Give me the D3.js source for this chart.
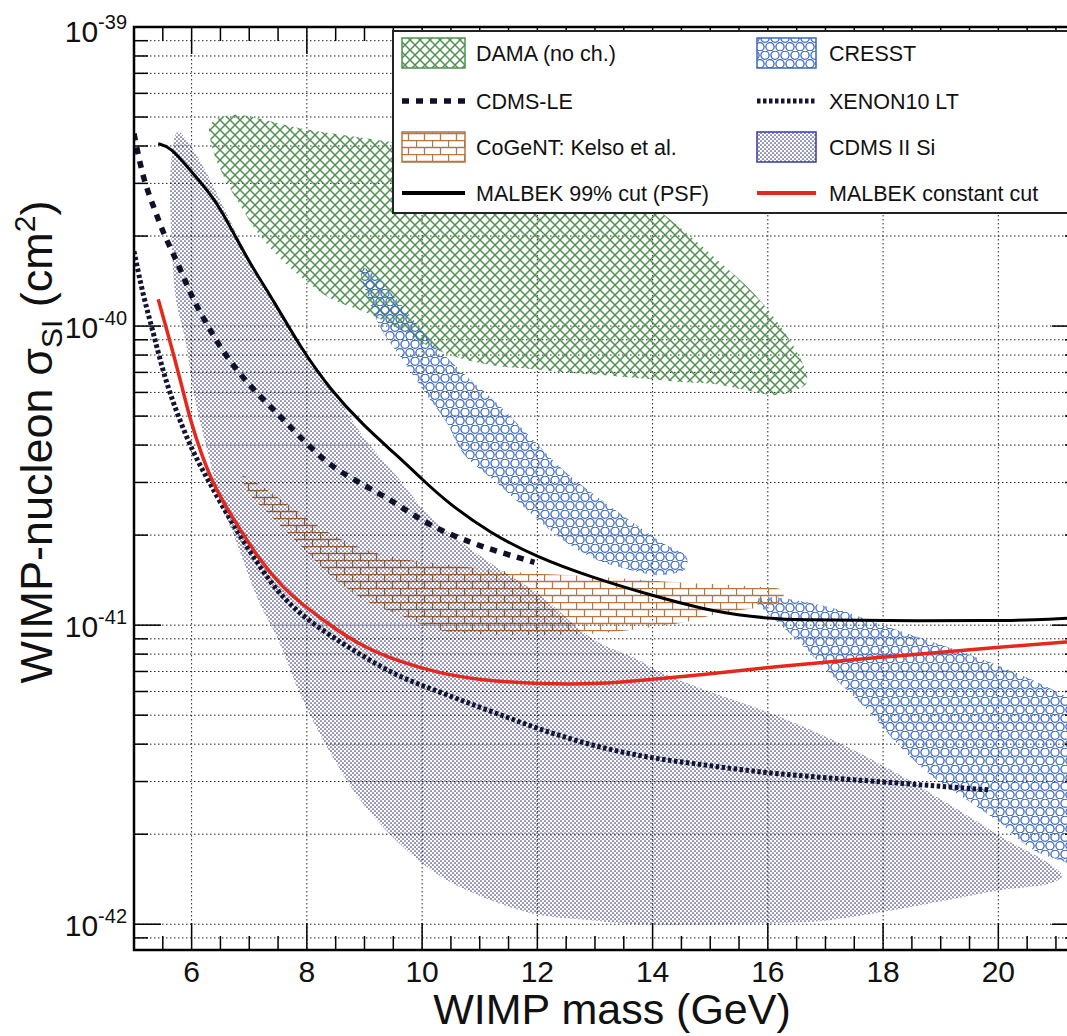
<!DOCTYPE html>
<html>
<head>
<meta charset="utf-8">
<script src="https://cdn.jsdelivr.net/npm/d3@7"></script>
<style>
body { margin: 0; background: #fff; }
text { font-family: "Liberation Sans", Arial, sans-serif; fill: #111; }
</style>
</head>
<body>
<div id="canvas"></div>
<script>
"use strict"

let svgWidth = 1067
let svgHeight = 1036
let frameLeft = 134, frameRight = 1079, frameTop = 27, frameBottom = 950 // right side runs off the page

/* exclusion curves: [WIMP mass (GeV), sigma (cm2)] */
let malbekPsf = [[5.42, 4.07e-40], [5.63, 3.98e-40], [5.97, 3.33e-40], [6.38, 2.70e-40], [6.67, 2.15e-40],
    [7.01, 1.62e-40], [7.42, 1.22e-40], [7.88, 8.53e-41], [8.40, 6.15e-41], [8.98, 4.65e-41], [9.56, 3.70e-41],
    [10.02, 3.05e-41], [10.43, 2.58e-41], [11.18, 2.03e-41], [11.99, 1.69e-41], [12.92, 1.45e-41], [13.96, 1.26e-41],
    [15.12, 1.10e-41], [16.0, 1.054e-41], [16.55, 1.04e-41], [18.0, 1.035e-41], [20.0, 1.035e-41], [20.6, 1.04e-41],
    [21.4, 1.06e-41]]

let malbekConst = [[5.42, 1.23e-40], [5.55, 1.0e-40], [5.68, 8.13e-41], [5.83, 6.31e-41], [5.97, 4.90e-41],
    [6.17, 3.72e-41], [6.4, 2.88e-41], [6.77, 2.19e-41], [7.21, 1.62e-41], [7.58, 1.34e-41], [7.88, 1.19e-41],
    [8.4, 1.0e-41], [8.92, 8.57e-42], [9.62, 7.52e-42], [10.31, 6.90e-42], [11.01, 6.55e-42], [12.05, 6.35e-42],
    [13.09, 6.35e-42], [13.96, 6.59e-42], [14.83, 6.80e-42], [16.01, 7.24e-42], [18.0, 7.82e-42], [20.02, 8.44e-42],
    [21.4, 8.85e-42]]

let cdmsLE = [[5.0, 4.4e-40], [5.16, 3.09e-40], [5.34, 2.51e-40], [5.51, 2.04e-40], [5.68, 1.75e-40], [5.86, 1.46e-40],
    [6.03, 1.22e-40], [6.26, 1.02e-40], [6.49, 8.51e-41], [6.78, 7.13e-41], [7.13, 5.96e-41], [7.48, 5.13e-41],
    [7.82, 4.37e-41], [8.4, 3.39e-41], [8.98, 2.95e-41], [9.56, 2.55e-41], [10.1, 2.16e-41], [10.89, 1.87e-41],
    [11.41, 1.74e-41], [11.95, 1.62e-41]]

let xenon10 = [[5.0, 1.78e-40], [5.16, 1.26e-40], [5.34, 9.44e-41], [5.51, 6.95e-41], [5.74, 5.13e-41], [6.03, 3.75e-41],
    [6.33, 2.95e-41], [6.7, 2.19e-41], [7.27, 1.47e-41], [7.7, 1.16e-41], [8.32, 9.44e-42], [8.94, 7.94e-42],
    [9.56, 6.76e-42], [10.18, 6.10e-42], [11.11, 5.22e-42], [12.04, 4.48e-42], [12.97, 3.94e-42], [13.96, 3.59e-42],
    [15.0, 3.39e-42], [16.0, 3.20e-42], [17.0, 3.09e-42], [18.0, 2.99e-42], [19.86, 2.81e-42]]

/* allowed regions (closed contours) */
let damaRegion = [[6.32, 4.70e-40], [6.58, 5.04e-40], [6.84, 5.08e-40], [7.88, 4.59e-40], [9.5, 4.12e-40],
    [11.35, 3.59e-40], [13.09, 2.96e-40], [13.96, 2.54e-40], [14.38, 2.21e-40], [15.07, 1.70e-40], [15.75, 1.29e-40],
    [16.3, 9.48e-41], [16.65, 7.13e-41], [16.67, 6.44e-41], [16.39, 6.01e-41], [16.09, 5.87e-41], [15.61, 6.11e-41],
    [15.07, 6.40e-41], [14.48, 6.50e-41], [13.91, 6.65e-41], [13.32, 6.81e-41], [12.45, 7.01e-41], [11.88, 7.18e-41],
    [11.3, 7.35e-41], [10.71, 7.76e-41], [10.14, 8.51e-41], [9.57, 9.84e-41], [8.98, 1.12e-40], [8.4, 1.24e-40],
    [7.88, 1.47e-40], [7.53, 1.69e-40], [7.14, 2.06e-40], [6.84, 2.54e-40], [6.55, 3.18e-40], [6.37, 3.88e-40]]

let cresstLow = [[8.92, 1.58e-40], [8.98, 1.39e-40], [9.27, 9.93e-41], [9.67, 7.69e-41], [10.02, 6.11e-41],
    [10.43, 4.74e-41], [10.71, 3.76e-41], [11.3, 2.99e-41], [11.88, 2.37e-41], [12.45, 1.92e-41], [13.04, 1.65e-41],
    [13.61, 1.53e-41], [14.18, 1.47e-41], [14.58, 1.55e-41], [14.58, 1.70e-41], [14.18, 1.88e-41], [13.61, 2.24e-41],
    [13.04, 2.68e-41], [12.45, 3.30e-41], [11.88, 4.26e-41], [11.3, 5.52e-41], [10.71, 6.97e-41], [10.14, 8.97e-41],
    [9.57, 1.22e-40], [9.15, 1.50e-40]]

let cresstHigh = [[15.78, 1.21e-41], [16.01, 1.24e-41], [17.14, 1.14e-41], [18.0, 1.0e-41], [19.17, 8.38e-42],
    [20.33, 6.90e-42], [21.2, 5.74e-42], [21.6, 5.20e-42], [21.6, 1.46e-42], [21.2, 1.60e-42], [20.61, 1.77e-42],
    [20.03, 2.18e-42], [19.46, 2.60e-42], [18.87, 3.10e-42], [18.3, 3.91e-42], [17.73, 5.20e-42], [17.14, 6.70e-42],
    [16.56, 8.71e-42], [15.99, 1.10e-41]]

let cogentRegion = [[6.89, 3.15e-41], [7.36, 2.79e-41], [7.88, 2.37e-41], [8.45, 2.00e-41], [9.05, 1.78e-41],
    [9.62, 1.67e-41], [10.49, 1.59e-41], [11.7, 1.50e-41], [13.09, 1.45e-41], [14.48, 1.39e-41], [15.69, 1.35e-41],
    [16.27, 1.30e-41], [16.22, 1.20e-41], [15.87, 1.15e-41], [15.12, 1.09e-41], [14.53, 1.02e-41], [13.96, 9.84e-42],
    [13.09, 9.40e-42], [11.88, 9.27e-42], [11.01, 9.33e-42], [10.31, 9.62e-42], [9.62, 1.08e-41], [9.01, 1.21e-41],
    [8.4, 1.47e-41], [7.88, 1.85e-41], [7.36, 2.33e-41], [6.98, 2.79e-41]]

let cdmsSiRegion = [[5.76, 4.46e-40], [5.97, 4.03e-40], [6.23, 3.33e-40], [6.58, 2.44e-40], [7.01, 1.66e-40],
    [7.45, 1.17e-40], [7.88, 8.63e-41], [8.4, 6.35e-41], [8.98, 4.26e-41], [9.57, 3.13e-41], [10.14, 2.30e-41],
    [10.71, 1.88e-41], [11.3, 1.56e-41], [12.05, 1.26e-41], [12.97, 8.97e-42], [13.73, 7.69e-42], [14.18, 6.90e-42],
    [14.83, 6.15e-42], [15.99, 5.12e-42], [17.14, 4.12e-42], [18.3, 3.15e-42], [19.17, 2.50e-42], [19.74, 2.14e-42],
    [20.21, 1.88e-42], [20.64, 1.70e-42], [20.99, 1.54e-42], [21.11, 1.45e-42], [20.9, 1.37e-42], [20.03, 1.30e-42],
    [19.17, 1.21e-42], [18.0, 1.10e-42], [17.03, 1.03e-42], [15.87, 1.007e-42], [13.78, 1.0e-42], [12.97, 1.03e-42],
    [11.98, 1.08e-42], [11.11, 1.22e-42], [10.36, 1.43e-42], [9.62, 1.85e-42], [8.94, 2.58e-42], [8.39, 3.79e-42],
    [7.9, 5.79e-42], [7.52, 8.77e-42], [7.15, 1.22e-41], [6.77, 1.91e-41], [6.49, 2.62e-41], [6.27, 3.85e-41],
    [6.06, 5.66e-41], [5.89, 8.97e-41], [5.73, 1.22e-40], [5.66, 1.79e-40], [5.64, 3.45e-40]]

/* axes */
let xRange = [5, 21.4]
let yRange = [8.2e-43, 1e-39]
let xTickLabels = [6, 8, 10, 12, 14, 16, 18, 20]
let yTickExponents = [-42, -41, -40, -39]

let legendLeft = ["DAMA (no ch.)", "CDMS-LE", "CoGeNT: Kelso et al.", "MALBEK 99% cut (PSF)"]
let legendRight = ["CRESST", "XENON10 LT", "CDMS II Si", "MALBEK constant cut"]

let green = "#4f914f", blue = "#3a69bd", brick = "#b47642", dotBlue = "#3c3c80", red = "#e5281e"

let svg = d3.select("#canvas")
    .append("svg")
    .attr("width", svgWidth)
    .attr("height", svgHeight)

let x = d3.scaleLinear().domain(xRange).range([frameLeft, frameRight])
let y = d3.scaleLog().domain(yRange).range([frameBottom, frameTop])

let defs = svg.append("defs")
defs.append("clipPath").attr("id", "plotClip")
    .append("rect")
    .attr("x", frameLeft).attr("y", frameTop)
    .attr("width", frameRight - frameLeft).attr("height", frameBottom - frameTop)

/* fill patterns, ROOT style */
let pDama = defs.append("pattern").attr("id", "damaFill")
    .attr("patternUnits", "userSpaceOnUse").attr("width", 10).attr("height", 10)
pDama.append("path")
    .attr("d", "M0,0L10,10M10,0L0,10")
    .attr("stroke", green).attr("stroke-width", 1.5).attr("fill", "none")

let pCresst = defs.append("pattern").attr("id", "cresstFill")
    .attr("patternUnits", "userSpaceOnUse").attr("width", 10).attr("height", 17)
;[[5, 4.25], [0, 12.75], [10, 12.75]].forEach(function (c) {
    pCresst.append("circle").attr("cx", c[0]).attr("cy", c[1]).attr("r", 4.1)
        .attr("fill", "none").attr("stroke", blue).attr("stroke-width", 1.3)
})

let pSi = defs.append("pattern").attr("id", "siFill")
    .attr("patternUnits", "userSpaceOnUse").attr("width", 4).attr("height", 4)
;[[1, 1], [3, 3]].forEach(function (c) {
    pSi.append("circle").attr("cx", c[0]).attr("cy", c[1]).attr("r", 0.85).attr("fill", dotBlue)
})

let pBrick = defs.append("pattern").attr("id", "brickFill")
    .attr("patternUnits", "userSpaceOnUse").attr("width", 16).attr("height", 14)
pBrick.append("path")
    .attr("d", "M0,0.5H16M0,7.5H16M0.5,0V7.5M8.5,7.5V14")
    .attr("stroke", brick).attr("stroke-width", 1.3).attr("fill", "none")

let plot = svg.append("g").attr("clip-path", "url(#plotClip)")

/* grid */
let yGrid = y.ticks()
plot.selectAll("line.hgrid")
    .data(yGrid)
    .join("line")
    .attr("class", "hgrid")
    .attr("x1", frameLeft).attr("x2", frameRight)
    .attr("y1", d => y(d)).attr("y2", d => y(d))
    .attr("stroke", "#222").attr("stroke-width", 1).attr("stroke-dasharray", "1.5,2.5")

plot.selectAll("line.vgrid")
    .data(xTickLabels)
    .join("line")
    .attr("class", "vgrid")
    .attr("x1", d => x(d)).attr("x2", d => x(d))
    .attr("y1", frameTop).attr("y2", frameBottom)
    .attr("stroke", "#222").attr("stroke-width", 1).attr("stroke-dasharray", "1.5,2.5")

/* regions */
let area = d3.line()
    .x(d => x(d[0]))
    .y(d => y(d[1]))
    .curve(d3.curveCatmullRomClosed.alpha(0.5))

plot.append("path").datum(damaRegion).attr("d", area).attr("fill", "url(#damaFill)")
plot.append("path").datum(cresstLow).attr("d", area).attr("fill", "url(#cresstFill)")
plot.append("path").datum(cresstHigh).attr("d", area).attr("fill", "url(#cresstFill)")
plot.append("path").datum(cogentRegion).attr("d", area).attr("fill", "url(#brickFill)")
plot.append("path").datum(cdmsSiRegion).attr("d", area).attr("fill", "url(#siFill)")
    .style("mix-blend-mode", "multiply")

/* limit curves */
let curve = d3.line()
    .x(d => x(d[0]))
    .y(d => y(d[1]))
    .curve(d3.curveBasis)

plot.append("path").datum(cdmsLE).attr("d", curve)
    .attr("fill", "none").attr("stroke", "#101028").attr("stroke-width", 5.5).attr("stroke-dasharray", "7,7")
plot.append("path").datum(xenon10).attr("d", curve)
    .attr("fill", "none").attr("stroke", "#141433").attr("stroke-width", 5).attr("stroke-dasharray", "3.5,2.5")
plot.append("path").datum(malbekPsf).attr("d", curve)
    .attr("fill", "none").attr("stroke", "#000").attr("stroke-width", 3)
plot.append("path").datum(malbekConst).attr("d", curve)
    .attr("fill", "none").attr("stroke", red).attr("stroke-width", 3.5)

/* ticks on all four sides */
let xMinor = d3.range(5.5, 21.4, 0.5)
let ticks = svg.append("g").attr("stroke", "#000").attr("stroke-width", 1.5)
xMinor.forEach(function (v) {
    let len = (v % 2 === 0) ? 27 : 14
    ticks.append("line").attr("x1", x(v)).attr("x2", x(v)).attr("y1", frameBottom).attr("y2", frameBottom - len)
    ticks.append("line").attr("x1", x(v)).attr("x2", x(v)).attr("y1", frameTop).attr("y2", frameTop + len)
})
yGrid.forEach(function (v) {
    let major = Math.abs(Math.log10(v) - Math.round(Math.log10(v))) < 1e-6
    let len = major ? 27 : 14
    ticks.append("line").attr("x1", frameLeft).attr("x2", frameLeft + len).attr("y1", y(v)).attr("y2", y(v))
    ticks.append("line").attr("x1", frameRight).attr("x2", frameRight - len).attr("y1", y(v)).attr("y2", y(v))
})

/* legend */
let legend = svg.append("g")
legend.append("rect")
    .attr("x", 393).attr("y", 31)
    .attr("width", 720).attr("height", 182)
    .attr("fill", "#fff").attr("stroke", "#222").attr("stroke-width", 2)

let rowY = [53, 101, 147, 193]
let swatchFills = [["url(#damaFill)", green], null, ["url(#brickFill)", brick], null]
let swatchFillsR = [["url(#cresstFill)", blue], null, ["url(#siFill)", "#3a3aa8"], null]

function drawSwatch(xs, w, i, fillSpec, lineSpec) {
    if (fillSpec) {
        legend.append("rect")
            .attr("x", xs).attr("y", rowY[i] - 15).attr("width", w).attr("height", 30)
            .attr("fill", fillSpec[0]).attr("stroke", fillSpec[1]).attr("stroke-width", 1.5)
    } else {
        legend.append("line")
            .attr("x1", xs).attr("x2", xs + w).attr("y1", rowY[i]).attr("y2", rowY[i])
            .attr("stroke", lineSpec.color).attr("stroke-width", lineSpec.width)
            .attr("stroke-dasharray", lineSpec.dash)
    }
}

let lineSpecsL = [null, {color: "#101028", width: 5.5, dash: "7,7"}, null, {color: "#000", width: 4, dash: null}]
let lineSpecsR = [null, {color: "#141433", width: 5, dash: "3.5,2.5"}, null, {color: red, width: 4, dash: null}]

legendLeft.forEach(function (label, i) {
    drawSwatch(402, 63, i, swatchFills[i], lineSpecsL[i])
    legend.append("text").attr("x", 476).attr("y", rowY[i] + 8)
        .attr("font-size", 21.5).text(label)
})
legendRight.forEach(function (label, i) {
    drawSwatch(757, 59, i, swatchFillsR[i], lineSpecsR[i])
    legend.append("text").attr("x", 829).attr("y", rowY[i] + 8)
        .attr("font-size", 21.5).text(label)
})

/* frame */
svg.append("rect")
    .attr("x", frameLeft).attr("y", frameTop)
    .attr("width", frameRight - frameLeft).attr("height", frameBottom - frameTop)
    .attr("fill", "none").attr("stroke", "#000").attr("stroke-width", 2.5)

/* tick labels */
svg.selectAll("text.xlab")
    .data(xTickLabels)
    .join("text")
    .attr("class", "xlab")
    .attr("x", d => x(d))
    .attr("y", frameBottom + 32)
    .attr("text-anchor", "middle")
    .attr("font-size", 30)
    .text(d => d)

yTickExponents.forEach(function (e) {
    let t = svg.append("text")
        .attr("x", 127)
        .attr("y", y(Math.pow(10, e)) + 12 + (e === -39 ? 3 : 0))
        .attr("text-anchor", "end")
    t.append("tspan").attr("font-size", 30).text("10")
    t.append("tspan").attr("font-size", 20).attr("dy", -13).text(String(e))
})

/* axis titles */
svg.append("text")
    .attr("x", 612)
    .attr("y", 1024)
    .attr("text-anchor", "middle")
    .attr("font-size", 43)
    .text("WIMP mass (GeV)")

let yTitle = svg.append("text")
    .attr("transform", "translate(52,442) rotate(-90)")
    .attr("text-anchor", "middle")
    .attr("font-size", 45)
yTitle.append("tspan").text("WIMP-nucleon σ")
yTitle.append("tspan").attr("font-size", 30).attr("dy", 10).text("SI")
yTitle.append("tspan").attr("dy", -10).text(" (cm")
yTitle.append("tspan").attr("font-size", 30).attr("dy", -17).text("2")
yTitle.append("tspan").attr("dy", 17).text(")")
</script>
</body>
</html>
